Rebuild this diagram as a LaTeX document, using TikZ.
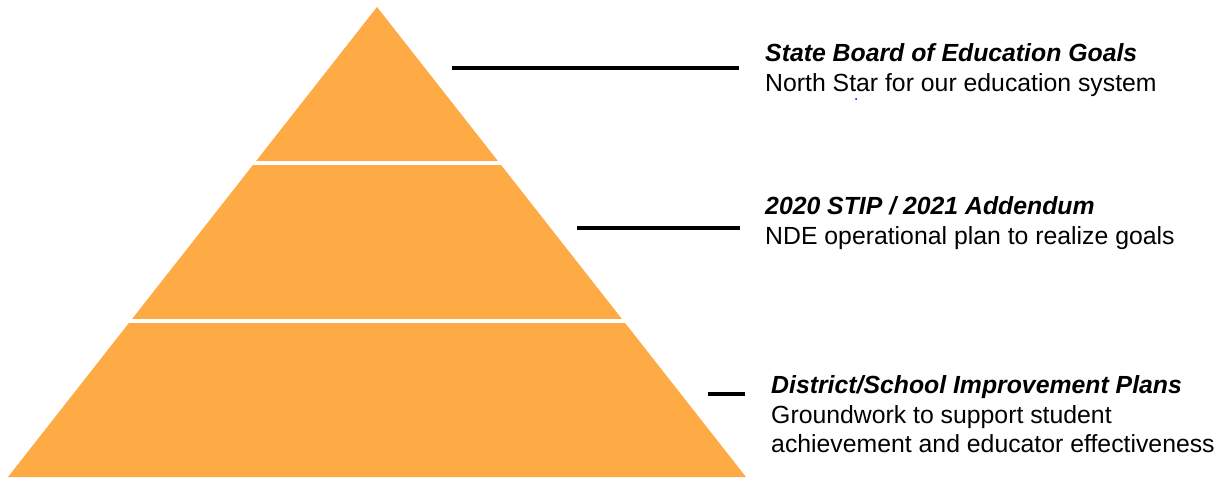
\documentclass[tikz,border=0pt]{standalone}
\usepackage{fontspec}
\setmainfont{Liberation Sans}
\usetikzlibrary{positioning}
\definecolor{tierorange}{HTML}{FFAB45}
\tikzset{
  tiertitle/.style={anchor=base west, inner sep=0pt, font=\fontsize{24.8}{29.5}\selectfont\bfseries\itshape},
  tiertext/.style={anchor=base west, inner sep=0pt, font=\fontsize{24.8}{29.5}\selectfont},
  leader/.style={line width=4pt, black},
  gap/.style={line width=4pt, white}
}
\begin{document}
\begin{tikzpicture}[x=1pt, y=-1pt]
    \useasboundingbox (0,0) rectangle (1228,478);
    \fill[tierorange] (377,7) -- (746,477) -- (8,477) -- cycle;
    \draw[gap] (250,163) -- (505,163);
    \draw[gap] (125,321) -- (630,321);
    \coordinate (goalsA) at (452,68);
    \coordinate (goalsB) at (739,68);
    \coordinate (stipA) at (577,228);
    \coordinate (stipB) at (740,228);
    \coordinate (planA) at (708,394);
    \coordinate (planB) at (745,394);
    \draw[leader] (goalsA) -- (goalsB);
    \draw[leader] (stipA) -- (stipB);
    \draw[leader] (planA) -- (planB);
    \node[tiertitle] (goals) at (765,61.5) {State Board of Education Goals};
    \node[tiertext] (goalstext) at (765,92) {North Star for our education system};
    \node[tiertitle] (stip) at (765,214.5) {2020 STIP / 2021 Addendum};
    \node[tiertext] (stiptext) at (765,244.5) {NDE operational plan to realize goals};
    \node[tiertitle] (plan) at (771,393.5) {District/School Improvement Plans};
    \node[tiertext] (plantext) at (771,423) {Groundwork to support student};
    \node[tiertext] (plantextb) at (771,452) {achievement and educator effectiveness};
    \fill[blue] (856,99) circle[radius=1];
\end{tikzpicture}
\end{document}
